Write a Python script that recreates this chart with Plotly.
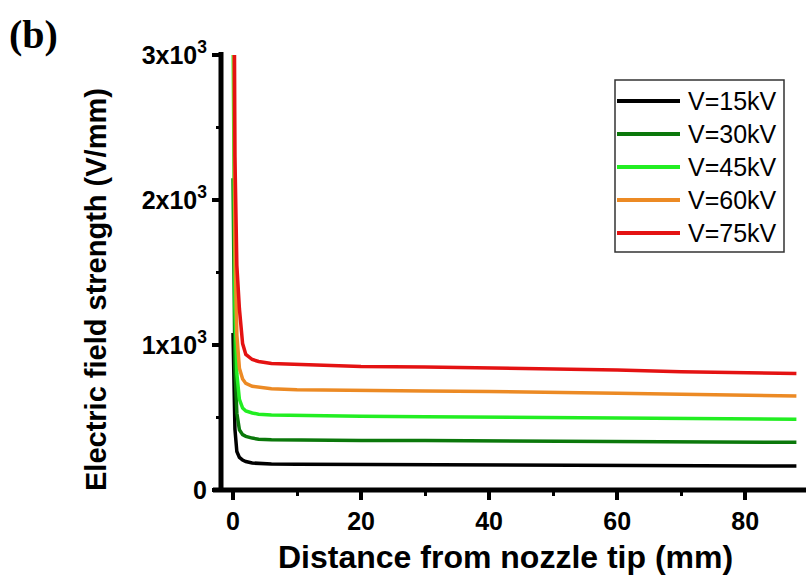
import plotly.graph_objects as go

# ---- data ----
distance_mm = [0, 0.15, 0.3, 0.6, 1.0, 1.5, 2.0, 3.0, 4.0, 6.0, 10, 20, 30, 40, 50, 60, 70, 80, 88]
e_15kV = [1083, 620, 420, 265, 225, 206, 196, 186, 182, 179, 178, 176, 175, 173, 172, 170, 169, 166, 165]
e_30kV = [2150, 1230, 840, 530, 415, 382, 370, 358, 350, 346, 344, 342, 341, 339, 337, 334, 332, 330, 329]
e_45kV = [3250, 1850, 1260, 800, 625, 565, 545, 531, 523, 517, 514, 508, 506, 503, 500, 497, 493, 490, 488]
e_60kV = [4330, 2470, 1680, 1070, 840, 765, 735, 715, 708, 698, 692, 685, 682, 679, 675, 668, 660, 652, 648]
e_75kV = [5400, 3300, 2300, 1550, 1250, 1010, 935, 900, 886, 872, 866, 852, 848, 842, 836, 828, 816, 806, 804]

series_names = ["V=15kV", "V=30kV", "V=45kV", "V=60kV", "V=75kV"]
series_values = [e_15kV, e_30kV, e_45kV, e_60kV, e_75kV]
series_colors = ["#000000", "#0b780b", "#22ee22", "#ec8a24", "#e41212"]

y_tickvals = [0, 1000, 2000, 3000]
y_ticktext = ["0", "1x10<sup>3</sup>", "2x10<sup>3</sup>", "3x10<sup>3</sup>"]
x_tickvals = [0, 20, 40, 60, 80]

# ---- figure ----
W, H = 806, 577
ML, MR, MT, MB = 222, 0, 55, 87
PW, PH = W - ML - MR, H - MT - MB

fig = go.Figure()
for name, vals, col in zip(series_names, series_values, series_colors):
    fig.add_trace(go.Scatter(x=distance_mm, y=vals, mode="lines", name=name,
                             line=dict(color=col, width=3.5), showlegend=False))

font_family = "Liberation Sans, Arial, sans-serif"

fig.update_layout(
    width=W, height=H,
    margin=dict(l=ML, r=MR, t=MT, b=MB, pad=0),
    paper_bgcolor="white", plot_bgcolor="white",
    font=dict(family=font_family, color="black"),
    xaxis=dict(
        range=[-1.72, 89.5], showgrid=False, zeroline=False,
        showline=False,
        tickmode="array", tickvals=x_tickvals,
        ticks="outside", ticklen=9, tickwidth=4, tickcolor="black",
        minor=dict(ticks="outside", ticklen=5, tickwidth=3, tickcolor="black",
                   tick0=0, dtick=10),
        tickfont=dict(size=25, weight="bold", family=font_family),
    ),
    yaxis=dict(
        range=[0, 3000], showgrid=False, zeroline=False,
        showline=False,
        tickmode="array", tickvals=y_tickvals, ticktext=y_ticktext,
        ticks="outside", ticklen=9, tickwidth=4, tickcolor="black",
        minor=dict(ticks="outside", ticklen=5, tickwidth=3, tickcolor="black",
                   tick0=0, dtick=500),
        tickfont=dict(size=25, weight="bold", family=font_family),
    ),
)

def px_to_paper_x(px):
    return (px - ML) / PW

def px_to_paper_y(py):
    return (H - MB - py) / PH

# heavy axis lines (style)
fig.add_shape(type="line", xref="paper", yref="paper",
              x0=px_to_paper_x(221), x1=px_to_paper_x(221),
              y0=px_to_paper_y(492), y1=px_to_paper_y(52),
              line=dict(color="black", width=5), layer="above")
fig.add_shape(type="line", xref="paper", yref="paper",
              x0=px_to_paper_x(213), x1=1,
              y0=px_to_paper_y(490), y1=px_to_paper_y(490),
              line=dict(color="black", width=5), layer="above")

# axis titles
fig.add_annotation(text="<b>Distance from nozzle tip (mm)</b>", xref="paper", yref="paper",
                   x=px_to_paper_x(505), y=px_to_paper_y(557),
                   xanchor="center", yanchor="middle", showarrow=False,
                   font=dict(family=font_family, size=32, color="black"))
fig.add_annotation(text="<b>Electric field strength (V/mm)</b>", xref="paper", yref="paper",
                   x=px_to_paper_x(96), y=px_to_paper_y(290), textangle=-90,
                   xanchor="center", yanchor="middle", showarrow=False,
                   font=dict(family=font_family, size=29, color="black"))

# panel label
fig.add_annotation(text="<b>(b)</b>", xref="paper", yref="paper",
                   x=px_to_paper_x(7), y=px_to_paper_y(10), xanchor="left", yanchor="top",
                   showarrow=False,
                   font=dict(family="Liberation Serif, Times New Roman, serif", size=40, color="black"))

# custom legend (built from the series lists)
box_l, box_r, box_t, box_b = 615, 784, 80, 252
fig.add_shape(type="rect", xref="paper", yref="paper",
              x0=px_to_paper_x(box_l), x1=px_to_paper_x(box_r),
              y0=px_to_paper_y(box_b), y1=px_to_paper_y(box_t),
              line=dict(color="#333333", width=1.5), fillcolor="white", layer="above")
row0, row_step = 101, 33
for i, (name, col) in enumerate(zip(series_names, series_colors)):
    ry = row0 + i * row_step
    fig.add_shape(type="line", xref="paper", yref="paper",
                  x0=px_to_paper_x(617), x1=px_to_paper_x(680),
                  y0=px_to_paper_y(ry), y1=px_to_paper_y(ry),
                  line=dict(color=col, width=4), layer="above")
    fig.add_annotation(text=name, xref="paper", yref="paper",
                       x=px_to_paper_x(686), y=px_to_paper_y(ry),
                       xanchor="left", yanchor="middle", showarrow=False,
                       font=dict(family=font_family, size=25, color="black"))

fig.write_html("out.html")
